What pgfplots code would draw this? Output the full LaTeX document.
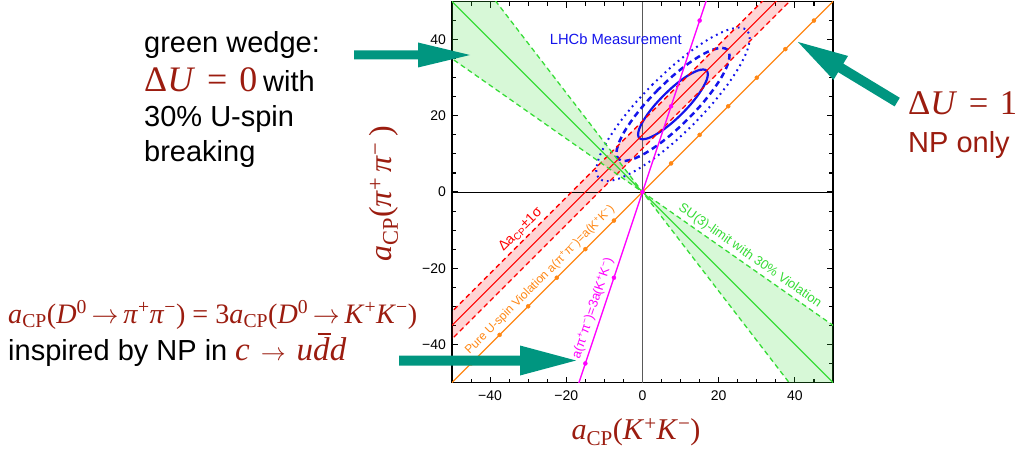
\documentclass[border=0pt]{standalone}
\usepackage{pgfplots}
\pgfplotsset{compat=1.18}
\usepackage[no-math]{fontspec}
\setmainfont{Liberation Sans}
\newfontfamily\tms{Liberation Serif}
\usepackage{graphicx}
\definecolor{dred}{RGB}{155,28,15}
\definecolor{teal2}{RGB}{0,150,128}
\definecolor{mgreen}{RGB}{55,220,55}
\definecolor{morange}{RGB}{255,135,20}
\definecolor{mblue}{RGB}{20,20,235}
\definecolor{mmag}{RGB}{255,0,255}
\newcommand{\fs}[1]{\fontsize{#1}{#1}\selectfont}
\newcommand{\dbar}{\ooalign{\textit{d}\cr\hidewidth\kern0.18em\rule[0.76em]{0.42em}{0.055em}\hidewidth}}
\newcommand{\arr}{\,$\rightarrow$\,}

\begin{document}
\begin{tikzpicture}[x=1pt,y=1pt]
\useasboundingbox (0,0) rectangle (1022,448);
\begin{axis}[
  at={(452pt,65.5pt)}, anchor=south west,
  scale only axis, width=381pt, height=381pt,
  xmin=-50, xmax=50, ymin=-50, ymax=50,
  axis line style={line width=1.5pt},
  xtick={-40,-20,0,20,40}, ytick={-40,-20,0,20,40},
  xticklabels={−40,−20,0,20,40}, yticklabels={−40,−20,0,20,40},
  minor xtick={-45,-35,-30,-25,-15,-10,-5,5,10,15,25,30,35,45},
  minor ytick={-45,-35,-30,-25,-15,-10,-5,5,10,15,25,30,35,45},
  tick align=inside,
  major tick length=6pt, minor tick length=4pt,
  every tick/.style={black, line width=1.1pt},
  tick label style={font=\fs{14}},
  xticklabel style={yshift=-5pt},
  yticklabel style={xshift=-2.5pt},
  clip=true,
]
% fills
\addplot[draw=none, fill=mgreen, fill opacity=0.2] coordinates {(0,0) (-60,42) (-60,78)} -- cycle;
\addplot[draw=none, fill=mgreen, fill opacity=0.2] coordinates {(0,0) (60,-42) (60,-78)} -- cycle;
\addplot[draw=none, fill=red, fill opacity=0.17] coordinates {(-70,-58.6) (60,71.4) (60,78.6) (-70,-51.4)} -- cycle;
% axes through origin
\addplot[black, line width=0.9pt] coordinates {(-50,0) (50,0)};
\addplot[black!65, line width=0.9pt] coordinates {(0,-50) (0,50)};
% LHCb ellipses
\addplot[mblue, line width=2.2pt, smooth] coordinates {
(5.60,25.40) (3.39,23.03) (1.50,20.66) (0.05,18.45) (-0.86,16.55) (-1.16,15.08) (-0.84,14.16) (0.08,13.84)
(1.55,14.14) (3.45,15.05) (5.66,16.50) (8.03,18.39) (10.40,20.60) (12.61,22.97) (14.50,25.34) (15.95,27.55)
(16.86,29.45) (17.16,30.92) (16.84,31.84) (15.92,32.16) (14.45,31.86) (12.55,30.95) (10.34,29.50) (7.97,27.61) (5.60,25.40)};
\addplot[mblue, line width=2.5pt, smooth, dash pattern=on 6pt off 4pt] coordinates {
(4.11,26.89) (0.53,23.06) (-2.53,19.21) (-4.88,15.63) (-6.35,12.55) (-6.84,10.18) (-6.32,8.68) (-4.82,8.16)
(-2.45,8.65) (0.63,10.12) (4.21,12.47) (8.05,15.53) (11.89,19.11) (15.47,22.94) (18.53,26.79) (20.88,30.37)
(22.35,33.45) (22.84,35.82) (22.32,37.32) (20.82,37.84) (18.45,37.35) (15.37,35.88) (11.79,33.53) (7.95,30.47) (4.11,26.89)};
\addplot[mblue, line width=2pt, smooth, dash pattern=on 1.8pt off 4pt] coordinates {
(2.71,28.29) (-2.14,23.08) (-6.30,17.86) (-9.49,12.99) (-11.49,8.81) (-12.15,5.59) (-11.45,3.55) (-9.41,2.85)
(-6.20,3.51) (-2.01,5.51) (2.86,8.70) (8.08,12.86) (13.29,17.71) (18.14,22.92) (22.30,28.14) (25.49,33.01)
(27.49,37.19) (28.15,40.41) (27.45,42.45) (25.41,43.15) (22.20,42.49) (18.01,40.49) (13.14,37.30) (7.92,33.14) (2.71,28.29)};
% red band
\addplot[red, line width=1.2pt] coordinates {(-70,-55) (40,55)};
\addplot[red, line width=1.3pt, dash pattern=on 5pt off 3.5pt] coordinates {(-70,-58.6) (40,51.4)};
\addplot[red, line width=1.3pt, dash pattern=on 5pt off 3.5pt] coordinates {(-70,-51.4) (40,58.6)};
% green wedge
\addplot[mgreen, line width=1.2pt] coordinates {(-55,55) (55,-55)};
\addplot[mgreen, line width=1.3pt, dash pattern=on 5pt off 3.5pt] coordinates {(-55,38.5) (55,-38.5)};
\addplot[mgreen, line width=1.3pt, dash pattern=on 5pt off 3.5pt] coordinates {(-40,52) (40,-52)};
% orange y=x
\addplot[morange, line width=1.4pt] coordinates {(-55,-55) (55,55)};
\addplot[morange, only marks, mark=*, mark size=2pt] coordinates {
(-45,-45) (-37.5,-37.5) (-30,-30) (-22.5,-22.5) (-15,-15) (-7.5,-7.5) (0,0)
(7.5,7.5) (15,15) (22.5,22.5) (30,30) (37.5,37.5) (45,45)};
% magenta y=3x
\addplot[mmag, line width=1.4pt] coordinates {(-17,-51) (17,51)};
\addplot[mmag, only marks, mark=*, mark size=2pt] coordinates {
(-15,-45) (-7.5,-22.5) (0,0) (7.5,22.5) (15,45)};
% labels
\node[text=mblue, font=\fs{14.75}] at (axis cs:-7,40) {LHCb Measurement};
\node[text=red, rotate=45, font=\fs{14}] at (axis cs:-32.0,-9.9) {Δa\textsubscript{CP}±1σ};
\node[text=morange, rotate=45, font=\fs{12}] at (axis cs:-26.9,-23.1) {Pure U-spin Violation a(π\textsuperscript{+}π\textsuperscript{−})=a(K\textsuperscript{+}K\textsuperscript{−})};
\node[text=mmag, rotate=71.57, font=\fs{13}] at (axis cs:-13.0,-30.5) {a(π\textsuperscript{+}π\textsuperscript{−})=3a(K\textsuperscript{+}K\textsuperscript{−})};
\node[text=mgreen, rotate=-35, font=\fs{13}] at (axis cs:28.2,-16.8) {SU(3)-limit with 30\% Violation};
\end{axis}
% axis labels
\node[text=dred, inner sep=0] at (636,15.5) {\resizebox{129pt}{!}{\tms\fs{30}\textit{a}\textsubscript{CP}(\textit{K}\textsuperscript{+}\textit{K}\textsuperscript{−})}};
\node[text=dred, inner sep=0, rotate=90] at (384,254) {\tms\fs{32}\textit{a}\textsubscript{CP}(\textit{π}\textsuperscript{+}\,\textit{π}\textsuperscript{−}\,)};
% annotations
\node[anchor=base west, inner sep=0, font=\fs{29}] at (144,395) {green wedge:};
\node[anchor=base west, inner sep=0, text=dred] at (144,356) {\resizebox{113pt}{!}{\tms\fs{32}Δ\textit{U}\,\,=\,\,0}};
\node[anchor=base west, inner sep=0, font=\fs{29}] at (263,356) {with};
\node[anchor=base west, inner sep=0, font=\fs{29}] at (144,321) {30\% U-spin};
\node[anchor=base west, inner sep=0, font=\fs{29}] at (144,287) {breaking};
\node[anchor=base west, inner sep=0, text=dred] at (908,333) {\resizebox{109pt}{!}{\tms\fs{32}Δ\textit{U}\,\,=\,\,1}};
\node[anchor=base west, inner sep=0, text=dred, font=\fs{29}] at (908,295) {NP only};
\node[anchor=base west, inner sep=0, text=dred] at (8,125) {\resizebox{409pt}{!}{\tms\fs{26}\textit{a}\textsubscript{CP}(\textit{D}\textsuperscript{0}\arr\textit{π}\textsuperscript{+}\textit{π}\textsuperscript{−}) = 3\textit{a}\textsubscript{CP}(\textit{D}\textsuperscript{0}\arr\textit{K}\textsuperscript{+}\textit{K}\textsuperscript{−})}};
\node[anchor=base west, inner sep=0, font=\fs{29}] at (8,88) {inspired by NP in};
\node[anchor=base west, inner sep=0, text=dred] at (235,88) {\tms\fs{33}\textit{c}\,\arr\,\textit{u}\dbar\textit{d}};
% arrows
\fill[teal2] (354,397.5) -- (418,397.5) -- (418,405.5) -- (470,393) -- (418,380.5) -- (418,388.5) -- (354,388.5) -- cycle;
\fill[teal2] (399,92.5) -- (520,92.5) -- (520,102.5) -- (576,87.5) -- (520,72.5) -- (520,82.5) -- (399,82.5) -- cycle;
\fill[teal2] (798,406) -- (833.5,368.13) -- (838.16,375.82) -- (894.6,341.6) -- (899.8,350.2) -- (843.34,384.37) -- (848.0,392.07) -- cycle;
\end{tikzpicture}
\end{document}
